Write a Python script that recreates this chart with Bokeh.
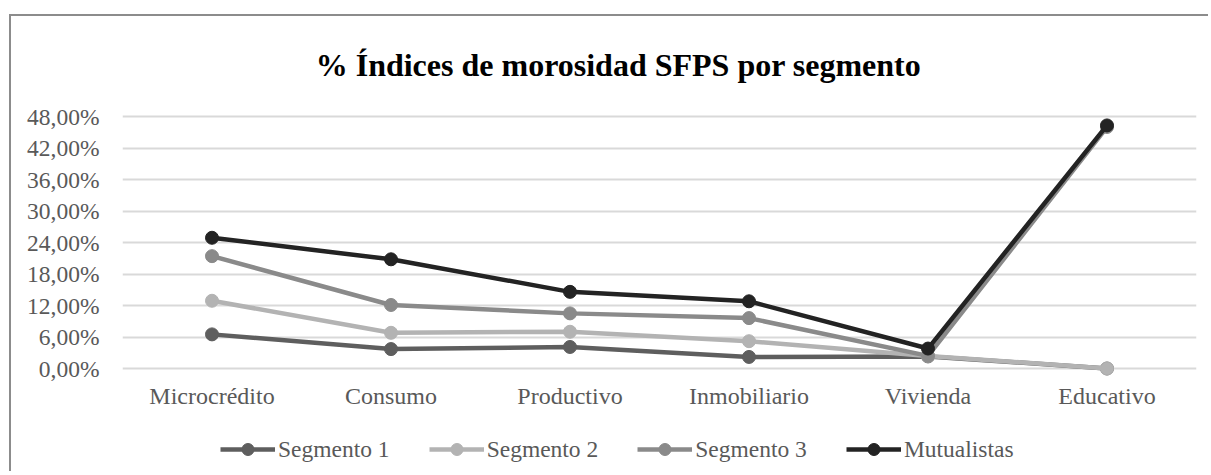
from bokeh.plotting import figure
from bokeh.models import FactorRange, Range1d, FixedTicker, Legend, LegendItem, Label
from bokeh.embed import file_html
from bokeh.resources import INLINE

categories = ["Microcrédito", "Consumo", "Productivo", "Inmobiliario", "Vivienda", "Educativo"]
segmento_1 = [6.5, 3.7, 4.1, 2.2, 2.3, 0.0]
segmento_2 = [12.9, 6.8, 7.0, 5.2, 2.4, 0.0]
segmento_3 = [21.4, 12.1, 10.5, 9.6, 2.4, 46.0]
mutualistas = [24.9, 20.8, 14.6, 12.8, 3.8, 46.3]
series_names = ["Segmento 1", "Segmento 2", "Segmento 3", "Mutualistas"]
series_colors = ["#5e5e5e", "#b3b3b3", "#8a8a8a", "#232323"]
y_ticks = [0, 6, 12, 18, 24, 30, 36, 42, 48]
y_tick_labels = ["0,00%", "6,00%", "12,00%", "18,00%", "24,00%", "30,00%", "36,00%", "42,00%", "48,00%"]
title_text = "% Índices de morosidad SFPS por segmento"

FONT = "Liberation Serif"
TXT = "#595959"

# frame spans the whole chart box; 0..48 occupies 252 px of its 450 px
PX = 252 / 48.0
Y_MIN = -(470 - 368) / PX
Y_MAX = 48 + (116 - 20) / PX

p = figure(
    x_range=FactorRange(*categories, range_padding=0),
    y_range=Range1d(Y_MIN, Y_MAX),
    frame_width=1074, frame_height=450,
    min_border_left=111, min_border_right=14, min_border_top=4, min_border_bottom=3,
    output_backend="svg", toolbar_location=None,
)
p.margin = (16, 0, 0, 11)
p.styles = {"box-shadow": "-2px -2px 0px 0px #8c8c8c", "background-color": "white"}
p.outline_line_color = None
p.background_fill_color = "white"
p.border_fill_color = "white"

p.yaxis.ticker = FixedTicker(ticks=y_ticks)
p.yaxis.major_label_overrides = dict(zip(y_ticks, y_tick_labels))
for ax in (p.xaxis, p.yaxis):
    ax.axis_line_color = None
    ax.major_tick_line_color = None
    ax.minor_tick_line_color = None
    ax.major_label_text_font = FONT
    ax.major_label_text_color = TXT
p.yaxis.major_label_text_font_size = "23.5px"
p.xaxis.major_label_text_font_size = "24px"
p.yaxis.major_label_standoff = 17
p.xaxis.major_label_standoff = -94

p.xgrid.grid_line_color = None
p.ygrid.ticker = FixedTicker(ticks=y_ticks)
p.ygrid.grid_line_color = "#d9d9d9"
p.ygrid.grid_line_width = 2

items = []
for name, vals, col in zip(series_names, [segmento_1, segmento_2, segmento_3, mutualistas], series_colors):
    r1 = p.line(categories, vals, line_color=col, line_width=4.5)
    r2 = p.scatter(categories, vals, size=13, fill_color=col, line_color=col)
    items.append(LegendItem(label=name, renderers=[r1, r2]))

title = Label(x=2.771, y=48 + (116 - 64) / PX, text=title_text,
              text_font=FONT, text_font_size="32px", text_font_style="bold",
              text_color="black", text_align="center", text_baseline="alphabetic")
p.add_layout(title)

legend = Legend(items=items, orientation="horizontal", location=(98, 6))
legend.border_line_color = None
legend.background_fill_alpha = 0
legend.label_text_font = FONT
legend.label_text_font_size = "23.5px"
legend.label_text_color = TXT
legend.glyph_width = 55
legend.glyph_height = 30
legend.label_standoff = 3
legend.spacing = 39
legend.padding = 0
legend.margin = 0
p.add_layout(legend)

open("out.html", "w").write(file_html(p, INLINE))
